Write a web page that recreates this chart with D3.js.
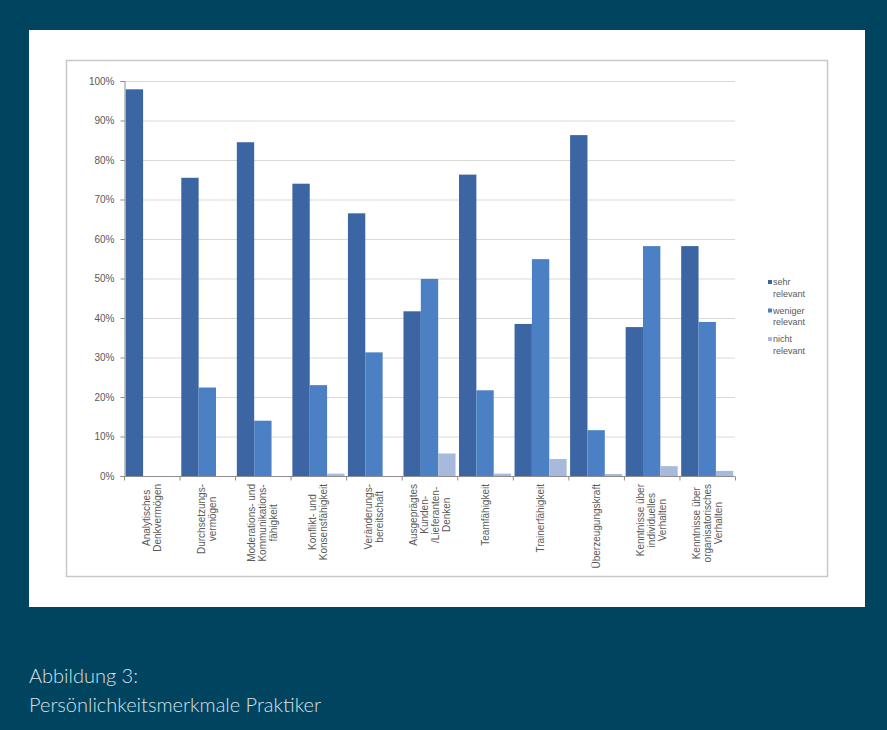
<!DOCTYPE html>
<html><head><meta charset="utf-8">
<script src="https://cdn.jsdelivr.net/npm/d3@7"></script>
<style>
html,body{margin:0;padding:0;background:#01445f;}
svg{display:block;}
</style></head>
<body>
<svg id="c" width="887" height="730"></svg>
<script>
const categories = [
  ["Analytisches", "Denkvermögen"],
  ["Durchsetzungs-", "vermögen"],
  ["Moderations- und", "Kommunikations-", "fähigkeit"],
  ["Konflikt- und", "Konsensfähigkeit"],
  ["Veränderungs-", "bereitschaft"],
  ["Ausgeprägtes", "Kunden-", "/Lieferanten-", "Denken"],
  ["Teamfähigkeit"],
  ["Trainerfähigkeit"],
  ["Überzeugungskraft"],
  ["Kenntnisse über", "individuelles", "Verhalten"],
  ["Kenntnisse über", "organisatorisches", "Verhalten"]
];
const seriesNames = [["sehr", "relevant"], ["weniger", "relevant"], ["nicht", "relevant"]];
const sehrRelevant    = [97.9, 75.5, 84.5, 74.0, 66.5, 41.7, 76.3, 38.5, 86.3, 37.7, 58.2];
const wenigerRelevant = [0,    22.4, 14.0, 23.0, 31.3, 49.9, 21.7, 54.9, 11.6, 58.2, 39.0];
const nichtRelevant   = [0,    0,    0,    0.6,  0,    5.7,  0.6,  4.3,  0.5,  2.5,  1.3];
const yTicks = [0, 10, 20, 30, 40, 50, 60, 70, 80, 90, 100];
const captionLines = ["Abbildung 3:", "Persönlichkeitsmerkmale Praktiker"];
const colors = ["#3b66a3", "#4b80c4", "#a8badb"];

const svg = d3.select("#c");
svg.append("rect").attr("x", 0).attr("y", 0).attr("width", 887).attr("height", 730).attr("fill", "#01445f");
svg.append("rect").attr("x", 29).attr("y", 30).attr("width", 836).attr("height", 577).attr("fill", "#ffffff");
svg.append("rect").attr("x", 66.5).attr("y", 60.5).attr("width", 761).attr("height", 516)
  .attr("fill", "none").attr("stroke", "#c8c8c8").attr("stroke-width", 1.5);

const pLeft = 124, pRight = 735, pTop = 81, pBottom = 476;
const x = d3.scaleBand().domain(d3.range(categories.length)).range([pLeft, pRight]).paddingInner(0).paddingOuter(0);
const xInner = d3.scaleBand().domain([0, 1, 2]).range([0, x.bandwidth()]).paddingOuter(0.1).paddingInner(0);
const y = d3.scaleLinear().domain([0, 100]).range([pBottom, pTop]);

// gridlines
svg.append("g").selectAll("line").data(yTicks.filter(d => d > 0)).join("line")
  .attr("x1", pLeft).attr("x2", pRight).attr("y1", d => y(d) + 0.5).attr("y2", d => y(d) + 0.5)
  .attr("stroke", "#d9d9d9").attr("stroke-width", 1);

// y axis
const yAxis = d3.axisLeft(y).tickValues(yTicks).tickFormat(d => d + "%").tickSize(4).tickPadding(6);
const ya = svg.append("g").attr("transform", `translate(${pLeft + 0.5},0)`).call(yAxis);
ya.select(".domain").attr("stroke", "#8c8c8c");
ya.selectAll(".tick line").attr("stroke", "#8c8c8c");
ya.selectAll(".tick text").attr("fill", "#595959").attr("font-family", "Liberation Sans, Arial, sans-serif").attr("font-size", 10);

// bars
const series = [sehrRelevant, wenigerRelevant, nichtRelevant];
series.forEach((vals, si) => {
  svg.append("g").selectAll("rect").data(vals).join("rect")
    .attr("x", (d, i) => x(i) + xInner(si))
    .attr("y", d => y(d))
    .attr("width", xInner.bandwidth())
    .attr("height", d => pBottom - y(d))
    .attr("fill", colors[si]);
});

// x axis
const xa = svg.append("g").attr("transform", `translate(0,${pBottom + 0.5})`);
xa.append("line").attr("x1", pLeft).attr("x2", pRight).attr("stroke", "#8c8c8c");
xa.selectAll("line.tk").data(d3.range(categories.length + 1)).join("line").attr("class", "tk")
  .attr("x1", i => pLeft + i * x.bandwidth() + 0.5).attr("x2", i => pLeft + i * x.bandwidth() + 0.5)
  .attr("y1", 0).attr("y2", 4).attr("stroke", "#8c8c8c");

const lblG = svg.append("g");
categories.forEach((lines, i) => {
  const cx = x(i) + x.bandwidth() / 2;
  const lh = 11;
  const n = lines.length;
  const t = lblG.append("text")
    .attr("transform", `translate(${cx},${pBottom + 8}) rotate(-90)`)
    .attr("font-family", "Liberation Sans, Arial, sans-serif")
    .attr("font-size", 10)
    .attr("fill", "#595959");
  lines.forEach((ln, j) => {
    t.append("tspan").attr("x", 0).attr("y", (j - (n - 1) / 2) * lh + 3.5).attr("text-anchor", "middle").text(ln);
  });
});
lblG.selectAll("text").each(function() {
  const t = d3.select(this);
  let maxW = 0;
  t.selectAll("tspan").each(function() { maxW = Math.max(maxW, this.getComputedTextLength()); });
  t.selectAll("tspan").attr("x", -maxW / 2);
});

// legend
const lg = svg.append("g").attr("transform", "translate(768,285)");
seriesNames.forEach((nm, i) => {
  const g = lg.append("g").attr("transform", `translate(0,${i * 28.5})`);
  g.append("rect").attr("x", 0).attr("y", -5).attr("width", 4).attr("height", 4).attr("fill", colors[i]);
  const t = g.append("text").attr("font-family", "Liberation Sans, Arial, sans-serif").attr("font-size", 9).attr("fill", "#595959");
  t.append("tspan").attr("x", 5).attr("y", 0).text(nm[0]);
  t.append("tspan").attr("x", 5).attr("y", 11.5).text(nm[1]);
});

// caption
const cap = svg.append("g");
captionLines.forEach((c, i) => {
  cap.append("text").attr("x", 29).attr("y", 683 + i * 28.5)
    .attr("font-family", "Lato, 'Open Sans', sans-serif").attr("font-weight", 300)
    .attr("font-size", 20).attr("fill", "#d9e0e6").text(c);
});
</script>
</body></html>
